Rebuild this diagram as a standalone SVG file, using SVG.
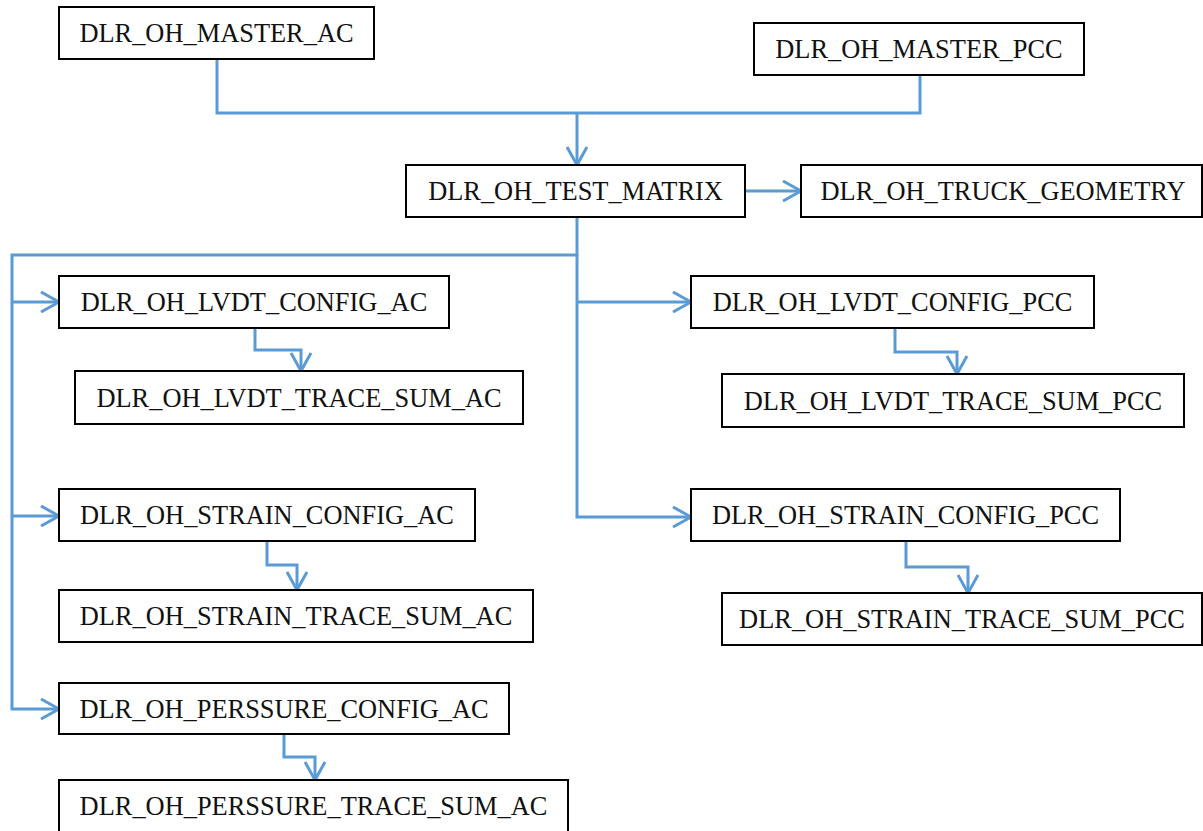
<svg xmlns="http://www.w3.org/2000/svg" width="1203" height="831" viewBox="0 0 1203 831">
<style>
.box{fill:#fff;stroke:#000;stroke-width:2}
.lbl{font-family:"Liberation Serif","Times New Roman",serif;font-size:26.4px;fill:#111;text-anchor:middle}
.con{fill:none;stroke:#5B9BD5;stroke-width:3;stroke-linejoin:miter}
.arr{marker-end:url(#ah)}
</style>
<defs>
<marker id="ah" markerUnits="userSpaceOnUse" viewBox="0 0 22 22" refX="19" refY="11" markerWidth="22" markerHeight="22" orient="auto">
<path d="M1,1 L19,11 L1,21" fill="none" stroke="#5B9BD5" stroke-width="3" stroke-linejoin="round"/>
</marker>
</defs>
<rect width="1203" height="831" fill="#fff"/>
<g id="connectors">
<path class="con" d="M217,59 V113 H920 V75"/>
<path class="con arr" d="M577,113 V165"/>
<path class="con arr" d="M745,191 H801"/>
<path class="con arr" d="M577,217 V255 H12 V709 H59"/>
<path class="con arr" d="M12,302 H59"/>
<path class="con arr" d="M12,516 H59"/>
<path class="con arr" d="M577,255 V517 H691"/>
<path class="con arr" d="M577,302 H691"/>
<path class="con arr" d="M255,328 V350 H301 V371"/>
<path class="con arr" d="M267,541 V565 H297 V590"/>
<path class="con arr" d="M284,734 V757 H315 V780"/>
<path class="con arr" d="M895,328 V352 H957 V374"/>
<path class="con arr" d="M906,541 V567 H968 V593"/>
</g>
<g id="master_ac"><rect class="box" x="59" y="7" width="315" height="52"/><text class="lbl" x="216.5" y="42">DLR_OH_MASTER_AC</text></g>
<g id="master_pcc"><rect class="box" x="754" y="23" width="330" height="52"/><text class="lbl" x="919" y="58">DLR_OH_MASTER_PCC</text></g>
<g id="test_matrix"><rect class="box" x="406" y="165" width="339" height="52"/><text class="lbl" x="575.5" y="200">DLR_OH_TEST_MATRIX</text></g>
<g id="truck_geometry"><rect class="box" x="801" y="165" width="401" height="52"/><text class="lbl" x="1003" y="200">DLR_OH_TRUCK_GEOMETRY</text></g>
<g id="lvdt_config_ac"><rect class="box" x="59" y="276" width="390" height="52"/><text class="lbl" x="254" y="311">DLR_OH_LVDT_CONFIG_AC</text></g>
<g id="lvdt_trace_sum_ac"><rect class="box" x="75" y="371" width="448" height="53"/><text class="lbl" x="299" y="406.5">DLR_OH_LVDT_TRACE_SUM_AC</text></g>
<g id="strain_config_ac"><rect class="box" x="59" y="489" width="416" height="52"/><text class="lbl" x="267" y="524">DLR_OH_STRAIN_CONFIG_AC</text></g>
<g id="strain_trace_sum_ac"><rect class="box" x="59" y="590" width="474" height="52"/><text class="lbl" x="296" y="625">DLR_OH_STRAIN_TRACE_SUM_AC</text></g>
<g id="perssure_config_ac"><rect class="box" x="59" y="683" width="450" height="51"/><text class="lbl" x="284" y="717.5">DLR_OH_PERSSURE_CONFIG_AC</text></g>
<g id="perssure_trace_sum_ac"><rect class="box" x="59" y="780" width="509" height="53"/><text class="lbl" x="313.5" y="815">DLR_OH_PERSSURE_TRACE_SUM_AC</text></g>
<g id="lvdt_config_pcc"><rect class="box" x="691" y="276" width="403" height="52"/><text class="lbl" x="892.5" y="311">DLR_OH_LVDT_CONFIG_PCC</text></g>
<g id="lvdt_trace_sum_pcc"><rect class="box" x="722" y="374" width="462" height="53"/><text class="lbl" x="953" y="409.5">DLR_OH_LVDT_TRACE_SUM_PCC</text></g>
<g id="strain_config_pcc"><rect class="box" x="691" y="489" width="429" height="52"/><text class="lbl" x="905.5" y="524">DLR_OH_STRAIN_CONFIG_PCC</text></g>
<g id="strain_trace_sum_pcc"><rect class="box" x="722" y="593" width="480" height="52"/><text class="lbl" x="962" y="628">DLR_OH_STRAIN_TRACE_SUM_PCC</text></g>
</svg>
